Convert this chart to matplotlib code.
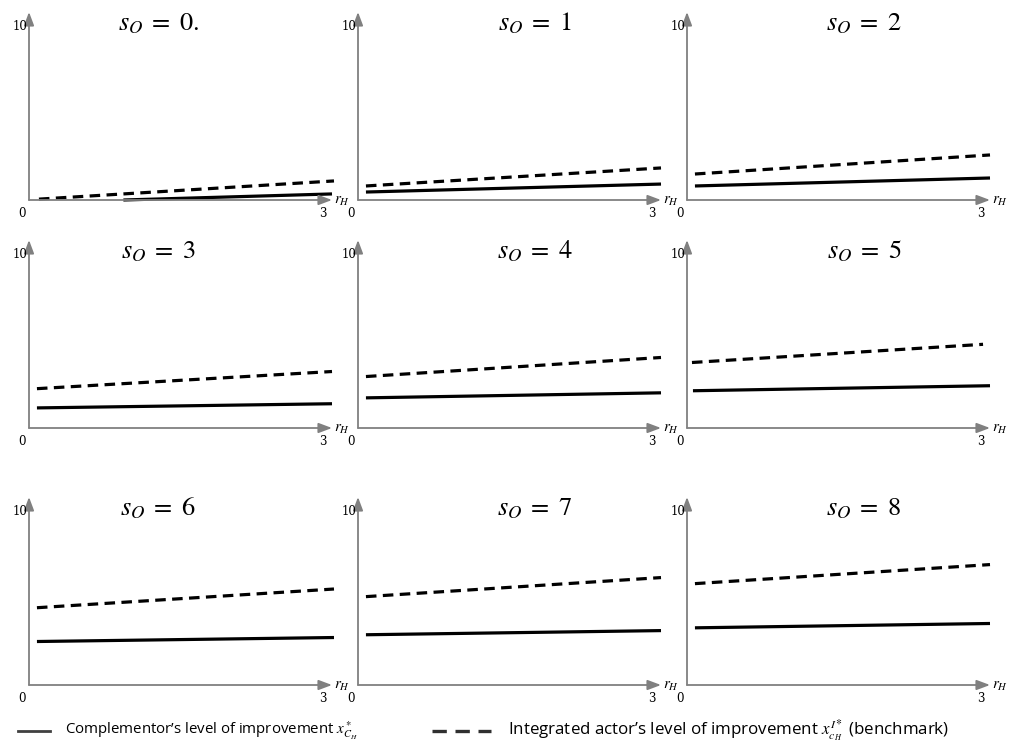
import matplotlib
matplotlib.use("Agg")
import matplotlib.pyplot as plt
from matplotlib.lines import Line2D

plt.rcParams['mathtext.fontset'] = 'stix'

# values
s_values = [0, 1, 2, 3, 4, 5, 6, 7, 8]
title_text = [r"$s_O\;=\;0.$", r"$s_O\;=\;1$", r"$s_O\;=\;2$",
              r"$s_O\;=\;3$", r"$s_O\;=\;4$", r"$s_O\;=\;5$",
              r"$s_O\;=\;6$", r"$s_O\;=\;7$", r"$s_O\;=\;8$"]

# integrated actor (dashed): value at start and end of r_H range
integrated_r = [[0.10, 3.07], [0.08, 3.05], [0.08, 3.05],
                [0.08, 3.05], [0.08, 3.05], [0.05, 2.98],
                [0.08, 3.07], [0.08, 3.05], [0.08, 3.05]]
integrated_val = [[0.05, 1.10], [0.81, 1.85], [1.50, 2.60],
                  [2.27, 3.26], [2.97, 4.07], [3.78, 4.83],
                  [4.46, 5.54], [5.10, 6.20], [5.85, 6.95]]

# complementor (solid)
complementor_r = [[0.95, 3.05], [0.08, 3.05], [0.08, 3.05],
                  [0.08, 3.05], [0.08, 3.05], [0.06, 3.05],
                  [0.08, 3.07], [0.08, 3.05], [0.08, 3.05]]
complementor_val = [[0.00, 0.35], [0.46, 0.92], [0.81, 1.27],
                    [1.16, 1.40], [1.74, 2.03], [2.15, 2.44],
                    [2.51, 2.74], [2.90, 3.14], [3.30, 3.55]]

W, H = 1009, 751
fig = plt.figure(figsize=(W / 100, H / 100), dpi=100)

col_x = [29, 358, 687]        # pixel x of origin
row_y = [200, 428, 685]       # pixel y (from top) of origin
ax_w, ax_h = 303, 188
axis_gray = '#808080'

for i, s in enumerate(s_values):
    r, c = divmod(i, 3)
    x0, y0 = col_x[c], row_y[r]
    ax = fig.add_axes([x0 / W, (H - y0) / H, ax_w / W, ax_h / H])
    ax.set_xlim(0, 3.05)
    ax.set_ylim(0, 10.85)
    ax.axis('off')

    # axes with arrow heads
    ax.annotate('', xy=(1, 0), xytext=(0, 0), xycoords='axes fraction',
                arrowprops=dict(arrowstyle='-|>,head_length=0.8,head_width=0.3',
                                color=axis_gray, lw=1.3, shrinkA=0, shrinkB=0))
    ax.annotate('', xy=(0, 1), xytext=(0, 0), xycoords='axes fraction',
                arrowprops=dict(arrowstyle='-|>,head_length=0.8,head_width=0.3',
                                color=axis_gray, lw=1.3, shrinkA=0, shrinkB=0))

    ax.plot(integrated_r[i], integrated_val[i], color='black', lw=2.3,
            ls=(0, (3.3, 2.0)), solid_capstyle='butt', clip_on=False)
    ax.plot(complementor_r[i], complementor_val[i], color='black', lw=2.3,
            solid_capstyle='butt', clip_on=False)

    ax.text(-0.02, 10, '10', ha='right', va='center', fontsize=8.5,
            family='DejaVu Serif')
    ax.text(-0.07, -0.4, '0', ha='center', va='top', fontsize=8.5,
            family='DejaVu Serif')
    ax.text(2.96, -0.4, '3', ha='center', va='top', fontsize=8.5,
            family='DejaVu Serif')
    ax.text(1.005, -0.005, '$r_H$', transform=ax.transAxes, ha='left',
            va='center', fontsize=11)

    ax.text(1.30 if i % 3 == 0 else 1.78, 10.2, title_text[i],
            ha='center', va='center', fontsize=19, clip_on=False)

# legend at the bottom
ly = (H - 731) / H
fig.lines.append(Line2D([18 / W, 50 / W], [ly, ly],
                        transform=fig.transFigure, color='#404040', lw=2))
fig.text(65 / W, ly,
         "Complementor’s level of improvement $x^*_{C_H}$",
         ha='left', va='center', fontsize=10.8, family='Open Sans')
fig.lines.append(Line2D([432 / W, 491 / W], [ly, ly],
                        transform=fig.transFigure, color='#303030', lw=2.4,
                        ls=(0, (4.3, 2.6))))
fig.text(508 / W, ly,
         "Integrated actor’s level of improvement $x^{I*}_{c_H}$ (benchmark)",
         ha='left', va='center', fontsize=12.2, family='Open Sans')

fig.savefig('out.png', dpi=100)
